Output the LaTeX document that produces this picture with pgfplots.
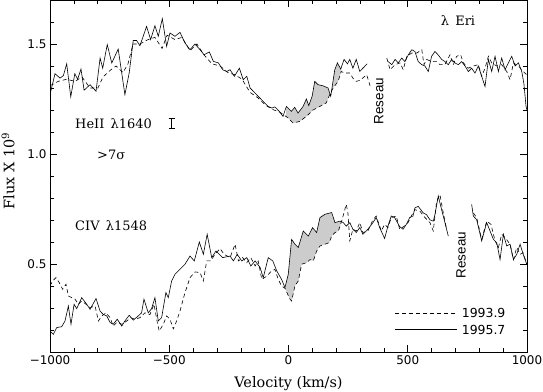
\documentclass[border=0pt]{standalone}
\usepackage{pgfplots}
\pgfplotsset{compat=1.18}
\usepgfplotslibrary{fillbetween}
\usepackage{fontspec}
\setmainfont{DejaVu Serif}
\newfontfamily\tickfont{DejaVu Sans}
\newfontfamily\helv{Liberation Sans}
\begin{document}
\begin{tikzpicture}
\begin{axis}[
  scale only axis, width=477bp, height=352bp,
  xmin=-1000, xmax=1000, ymin=0.1, ymax=1.7,
  xtick={-1000,-500,0,500,1000},
  xticklabels={−1000,−500,0,500,1000},
  minor xtick={-900,-800,-700,-600,-400,-300,-200,-100,100,200,300,400,600,700,800,900},
  ytick={0.5,1.0,1.5}, yticklabels={0.5,1.0,1.5},
  minor ytick={0.2,0.3,0.4,0.6,0.7,0.8,0.9,1.1,1.2,1.3,1.4,1.6},
  major tick length=7bp, minor tick length=4bp,
  tick style={black, line width=0.6pt},
  tick label style={font=\tickfont\fontsize{12}{14}\selectfont},
  /pgf/number format/assume math mode=true,
  axis line style={line width=0.8pt},
  xlabel={Velocity (km/s)}, ylabel={Flux X 10\textsuperscript{9}},
  label style={font=\fontsize{14.5}{16}\selectfont},
  xlabel style={at={(axis description cs:0.5,0)}, anchor=base, yshift=-35bp},
  ylabel style={at={(axis description cs:-0.088,0.514)}, anchor=center},
  clip=true,
]
% ---------- HeII (upper) ----------
\addplot[name path=us1, black, mark=none, line width=0.6pt] coordinates {
(-1000,1.27) (-979,1.365) (-958,1.345) (-944,1.356) (-930,1.41) (-913,1.26) (-896,1.365) (-884,1.34) (-870,1.386) (-857,1.29) (-832,1.315) (-807,1.285) (-790,1.436) (-779,1.39) (-760,1.497) (-741,1.414) (-714,1.477) (-686,1.27) (-668,1.368) (-651,1.516) (-637,1.516) (-623,1.492) (-595,1.58) (-578,1.52) (-560,1.583) (-546,1.535) (-529,1.615) (-511,1.489) (-497,1.55) (-476,1.535) (-455,1.553) (-434,1.505) (-413,1.474) (-392,1.50) (-371,1.474) (-354,1.451) (-332,1.464) (-315,1.421) (-294,1.414) (-276,1.383) (-259,1.375) (-245,1.383) (-227,1.353) (-206,1.39) (-190,1.338) (-175,1.353) (-161,1.30) (-140,1.277) (-127,1.262) (-106,1.239) (-85,1.216) (-70,1.209) (-57,1.214) (-39,1.194) (-23,1.171) (-9,1.216) (-2,1.209) (12,1.194) (26,1.212) (40,1.186) (61,1.216) (75,1.25) (85,1.22) (99,1.262) (110,1.33) (124,1.315) (145,1.31) (166,1.30) (177,1.262) (194,1.383) (205,1.414) (219,1.386) (233,1.43) (247,1.41) (257,1.43) (270,1.39) (284,1.43) (299,1.375) (312,1.39) (330,1.41)};
\addplot[name path=ud1, black, mark=none, line width=0.6pt, dash pattern=on 4pt off 3pt] coordinates {
(-1000,1.31) (-966,1.33) (-930,1.34) (-895,1.33) (-866,1.35) (-832,1.30) (-799,1.30) (-778,1.35) (-748,1.38) (-723,1.40) (-694,1.37) (-673,1.41) (-652,1.50) (-623,1.50) (-589,1.52) (-560,1.53) (-530,1.48) (-509,1.54) (-476,1.52) (-447,1.53) (-413,1.47) (-384,1.50) (-354,1.45) (-321,1.41) (-287,1.40) (-254,1.37) (-224,1.36) (-195,1.34) (-161,1.28) (-128,1.255) (-94,1.22) (-61,1.20) (-36,1.19) (-2,1.164) (19,1.141) (47,1.148) (75,1.171) (103,1.20) (131,1.216) (158,1.232) (173,1.27) (187,1.30) (208,1.33) (221,1.375) (236,1.368) (257,1.368) (270,1.345) (284,1.33) (300,1.335) (328,1.36) (342,1.31)};
\addplot[black!20, draw=none] fill between[of=us1 and ud1, soft clip={domain=-10:222}];
\addplot[black, mark=none, line width=0.6pt] coordinates {
(418,1.42) (433,1.406) (447,1.43) (460,1.414) (475,1.436) (488,1.42) (502,1.45) (517,1.474) (530,1.466) (544,1.42) (559,1.406) (572,1.40) (586,1.375) (600,1.444) (614,1.466) (628,1.45) (642,1.43) (656,1.42) (670,1.406) (684,1.43) (698,1.414) (712,1.406) (726,1.42) (740,1.40) (754,1.375) (768,1.39) (782,1.368) (796,1.40) (810,1.353) (824,1.307) (838,1.43) (852,1.375) (866,1.444) (880,1.375) (894,1.436) (908,1.383) (922,1.414) (936,1.444) (950,1.40) (964,1.414) (978,1.375) (987,1.32) (996,1.216) (1000,1.20)};
\addplot[black, mark=none, line width=0.6pt, dash pattern=on 4pt off 3pt] coordinates {
(412,1.436) (426,1.383) (447,1.406) (468,1.414) (481,1.383) (496,1.444) (517,1.459) (538,1.459) (559,1.474) (568,1.406) (579,1.43) (600,1.42) (621,1.42) (635,1.406) (656,1.406) (677,1.451) (691,1.406) (705,1.444) (722,1.451) (733,1.414) (754,1.39) (775,1.40) (796,1.406) (810,1.353) (824,1.39) (838,1.444) (852,1.414) (873,1.40) (894,1.406) (915,1.375) (929,1.338) (943,1.414) (964,1.40) (984,1.375) (999,1.36)};
% ---------- CIV (lower) ----------
\addplot[name path=ls1, black, mark=none, line width=0.6pt] coordinates {
(-1000,0.195) (-986,0.18) (-972,0.211) (-951,0.215) (-937,0.241) (-923,0.309) (-912,0.226) (-899,0.317) (-888,0.297) (-867,0.347) (-846,0.317) (-832,0.294) (-807,0.343) (-790,0.286) (-777,0.271) (-762,0.264) (-748,0.234) (-735,0.226) (-718,0.249) (-699,0.218) (-686,0.241) (-668,0.267) (-651,0.245) (-634,0.26) (-616,0.278) (-606,0.34) (-588,0.278) (-574,0.297) (-560,0.347) (-546,0.241) (-532,0.256) (-514,0.37) (-504,0.347) (-490,0.423) (-476,0.453) (-455,0.476) (-434,0.499) (-413,0.536) (-395,0.514) (-374,0.60) (-357,0.544) (-341,0.635) (-322,0.529) (-304,0.559) (-276,0.529) (-245,0.536) (-231,0.514) (-215,0.544) (-196,0.514) (-175,0.529) (-158,0.491) (-140,0.514) (-119,0.484) (-106,0.438) (-85,0.529) (-66,0.514) (-49,0.468) (-29,0.43) (-15,0.393) (-1,0.453) (13,0.612) (27,0.59) (41,0.575) (62,0.65) (83,0.627) (101,0.665) (118,0.643) (132,0.711) (153,0.726) (181,0.734) (195,0.688) (216,0.695) (230,0.688) (242,0.672) (257,0.688) (270,0.658) (284,0.643) (299,0.666) (312,0.635) (333,0.658) (354,0.688) (368,0.711) (382,0.666) (403,0.616) (417,0.673) (431,0.718) (445,0.711) (466,0.67) (480,0.658) (494,0.68) (508,0.711) (522,0.718) (530,0.755) (544,0.762) (565,0.732) (579,0.724) (593,0.701) (607,0.695) (614,0.724) (628,0.809) (642,0.747) (656,0.688) (670,0.627)};
\addplot[name path=ld1, black, mark=none, line width=0.6pt, dash pattern=on 4pt off 3pt] coordinates {
(-1000,0.40) (-989,0.423) (-975,0.438) (-961,0.415) (-947,0.385) (-933,0.408) (-923,0.355) (-909,0.347) (-895,0.34) (-881,0.317) (-867,0.332) (-849,0.317) (-832,0.302) (-811,0.309) (-797,0.241) (-783,0.264) (-765,0.278) (-748,0.256) (-735,0.218) (-718,0.236) (-699,0.226) (-678,0.241) (-662,0.256) (-644,0.249) (-623,0.256) (-602,0.278) (-581,0.27) (-564,0.317) (-550,0.234) (-542,0.195) (-525,0.226) (-511,0.264) (-497,0.249) (-483,0.205) (-469,0.241) (-455,0.286) (-434,0.37) (-413,0.438) (-392,0.464) (-371,0.461) (-357,0.423) (-343,0.514) (-326,0.514) (-308,0.544) (-287,0.57) (-270,0.544) (-245,0.529) (-224,0.59) (-210,0.514) (-192,0.529) (-175,0.506) (-158,0.529) (-140,0.491) (-127,0.514) (-112,0.43) (-91,0.445) (-75,0.464) (-57,0.476) (-43,0.43) (-29,0.40) (-15,0.39) (6,0.34) (13,0.332) (27,0.40) (41,0.423) (55,0.499) (76,0.506) (90,0.52) (104,0.514) (118,0.559) (132,0.582) (153,0.59) (171,0.597) (181,0.627) (195,0.643) (209,0.65) (223,0.695) (242,0.771) (249,0.734) (257,0.605) (270,0.658) (284,0.65) (299,0.688) (312,0.643) (333,0.65) (354,0.701) (368,0.718) (389,0.65) (403,0.68) (417,0.666) (431,0.711) (452,0.718) (466,0.658) (487,0.673) (501,0.688) (518,0.724) (530,0.747) (551,0.74) (572,0.711) (593,0.688) (607,0.65) (621,0.785) (635,0.815) (649,0.732) (663,0.658)};
\addplot[black!20, draw=none] fill between[of=ls1 and ld1, soft clip={domain=-15:225}];
\addplot[black, mark=none, line width=0.6pt] coordinates {
(768,0.771) (775,0.718) (789,0.701) (810,0.605) (831,0.688) (845,0.65) (859,0.612) (873,0.597) (887,0.52) (901,0.635) (915,0.582) (929,0.59) (943,0.52) (957,0.544) (971,0.59) (984,0.544) (999,0.499)};
\addplot[black, mark=none, line width=0.6pt, dash pattern=on 4pt off 3pt] coordinates {
(775,0.732) (789,0.711) (810,0.612) (831,0.695) (849,0.68) (866,0.605) (880,0.575) (894,0.635) (908,0.62) (929,0.59) (943,0.52) (957,0.575) (971,0.544) (984,0.551) (999,0.499)};
% error bar symbol
\draw[line width=0.7pt] (axis cs:-490,1.117) -- (axis cs:-490,1.163)
  (axis cs:-503,1.117) -- (axis cs:-477,1.117)
  (axis cs:-503,1.163) -- (axis cs:-477,1.163);
% annotations
\node[anchor=base west, inner sep=0pt, font=\fontsize{13}{15}\selectfont] at (axis cs:-895,1.118) {HeII\, λ1640};
\node[anchor=base west, inner sep=0pt, font=\fontsize{13}{15}\selectfont] at (axis cs:-803,0.977) {>7σ};
\node[anchor=base west, inner sep=0pt, font=\fontsize{13}{15}\selectfont] at (axis cs:-895,0.65) {CIV\, λ1548};
\node[anchor=base west, inner sep=0pt, font=\fontsize{13}{15}\selectfont] at (axis cs:638,1.583) {λ\, Eri};
\node[rotate=90, font=\helv\fontsize{13.5}{15}\selectfont] at (axis cs:379,1.24) {Reseau};
\node[rotate=90, font=\helv\fontsize{13.5}{15}\selectfont] at (axis cs:723,0.54) {Reseau};
% legend
\draw[line width=0.6pt, dash pattern=on 4pt off 3pt] (axis cs:447,0.277) -- (axis cs:706,0.277);
\draw[line width=0.6pt] (axis cs:447,0.201) -- (axis cs:706,0.201);
\node[anchor=base west, inner sep=0pt, font=\tickfont\fontsize{12.5}{14}\selectfont] at (axis cs:726,0.255) {1993.9};
\node[anchor=base west, inner sep=0pt, font=\tickfont\fontsize{12.5}{14}\selectfont] at (axis cs:726,0.18) {1995.7};
\end{axis}
\pgfresetboundingbox
\path ([xshift=-50bp,yshift=-40bp]current axis.south west) rectangle ([xshift=16bp]current axis.north east);
\end{tikzpicture}
\end{document}
